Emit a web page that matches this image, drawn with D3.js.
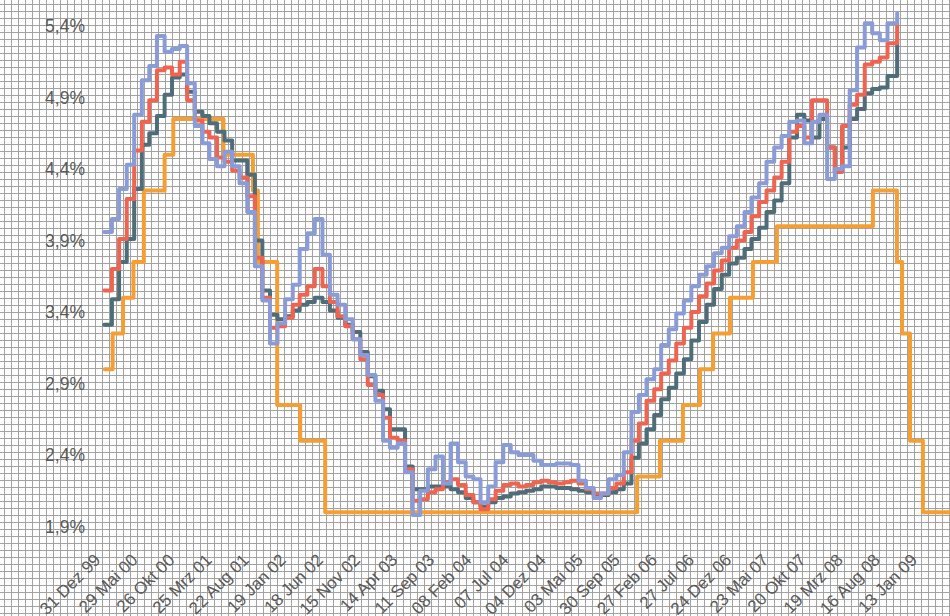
<!DOCTYPE html>
<html><head><meta charset="utf-8">
<script src="https://cdn.jsdelivr.net/npm/d3@7/dist/d3.min.js"></script>
<style>
html,body{margin:0;padding:0;background:#fff;}
svg{display:block;}
text{font-family:"Liberation Sans",Arial,sans-serif;}
</style></head><body>
<svg id="chart" width="950" height="616"></svg>
<script>
// ---------- DATA ----------
const firstMonth = "2000-01-01";
const lastPointDate = "2008-10-10";
const euribor3M = [
 3.31,3.49,3.75,3.91,4.26,4.57,4.65,4.77,4.92,5.04,5.06,4.94,
 4.80,4.77,4.72,4.66,4.60,4.46,4.46,4.36,3.90,3.55,3.38,3.35,
 3.37,3.41,3.45,3.47,3.50,3.47,3.41,3.36,3.31,3.26,3.12,2.95,
 2.85,2.72,2.58,2.58,2.32,2.16,2.16,2.18,2.18,2.18,2.16,2.14,
 2.10,2.07,2.04,2.07,2.10,2.11,2.13,2.14,2.15,2.16,2.18,2.18,
 2.17,2.17,2.16,2.15,2.14,2.12,2.12,2.14,2.16,2.20,2.38,2.48,
 2.58,2.68,2.79,2.87,2.97,3.07,3.20,3.33,3.45,3.56,3.66,3.74,
 3.78,3.84,3.91,3.99,4.10,4.18,4.30,4.62,4.78,4.74,4.62,4.75,
 4.55,4.38,4.55,4.75,4.82,4.93,4.96,4.97,5.05,5.30];
const euribor6M = [
 3.55,3.70,3.91,4.19,4.53,4.73,4.88,5.09,5.11,5.06,5.15,4.88,
 4.74,4.66,4.62,4.48,4.45,4.39,4.34,4.21,3.78,3.50,3.29,3.30,
 3.36,3.45,3.52,3.58,3.70,3.58,3.47,3.37,3.30,3.21,3.07,2.89,
 2.82,2.66,2.52,2.50,2.30,2.08,2.09,2.14,2.16,2.21,2.23,2.19,
 2.12,2.07,2.02,2.09,2.15,2.19,2.20,2.18,2.19,2.21,2.22,2.21,
 2.20,2.21,2.22,2.20,2.16,2.13,2.13,2.17,2.20,2.28,2.50,2.62,
 2.78,2.86,2.97,3.06,3.18,3.29,3.40,3.51,3.60,3.69,3.76,3.85,
 3.90,3.96,4.07,4.17,4.25,4.34,4.45,4.66,4.70,4.62,4.88,4.88,
 4.55,4.38,4.70,4.85,4.92,5.13,5.15,5.18,5.28,5.42];
const euribor12M = [
 3.96,4.05,4.26,4.43,4.78,5.02,5.12,5.33,5.22,5.24,5.26,5.00,
 4.70,4.58,4.47,4.42,4.52,4.42,4.30,4.10,3.72,3.48,3.18,3.32,
 3.49,3.59,3.84,3.95,4.05,3.80,3.52,3.45,3.35,3.21,3.10,2.96,
 2.78,2.50,2.45,2.48,2.28,1.98,2.15,2.30,2.39,2.20,2.48,2.35,
 2.25,2.23,2.07,2.18,2.35,2.47,2.42,2.40,2.40,2.36,2.33,2.33,
 2.34,2.34,2.33,2.22,2.17,2.10,2.13,2.23,2.26,2.42,2.70,2.82,
 2.93,3.00,3.17,3.28,3.39,3.48,3.58,3.66,3.72,3.81,3.85,3.93,
 4.00,4.10,4.20,4.30,4.45,4.55,4.63,4.73,4.74,4.58,4.73,4.78,
 4.33,4.40,4.42,4.95,5.25,5.42,5.35,5.30,5.42,5.49];
const ecbDates = ["2000-01-03","2000-02-04","2000-03-17","2000-04-28","2000-06-09","2000-09-01","2000-10-06",
 "2001-04-27","2001-08-24","2001-09-13","2001-11-30","2002-03-03","2002-06-12","2005-11-24","2006-02-24",
 "2006-05-28","2006-08-05","2006-09-27","2006-12-04","2007-03-07","2007-06-12","2008-07-04","2008-10-09",
 "2008-10-30","2008-12-01","2009-01-22","2009-08-01"];
const ecbRates = [3.00,3.25,3.50,3.75,4.25,4.50,4.75,4.50,4.25,3.75,2.75,2.50,2.00,2.25,2.50,
 2.75,3.00,3.25,3.50,3.75,4.00,4.25,3.75,3.25,2.50,2.00,2.00];
const yTicks = [1.9,2.4,2.9,3.4,3.9,4.4,4.9,5.4];
const xTickDates = ["1999-12-31","2000-05-29","2000-10-26","2001-03-25","2001-08-22","2002-01-19","2002-06-18",
 "2002-11-15","2003-04-14","2003-09-11","2004-02-08","2004-07-07","2004-12-04","2005-05-03","2005-09-30",
 "2006-02-27","2006-07-27","2006-12-24","2007-05-23","2007-10-20","2008-03-19","2008-08-16","2009-01-13"];
const xTickLabels = ["31 Dez 99","29 Mai 00","26 Okt 00","25 Mrz 01","22 Aug 01","19 Jan 02","18 Jun 02",
 "15 Nov 02","14 Apr 03","11 Sep 03","08 Feb 04","07 Jul 04","04 Dez 04","03 Mai 05","30 Sep 05",
 "27 Feb 06","27 Jul 06","24 Dez 06","23 Mai 07","20 Okt 07","19 Mrz 08","16 Aug 08","13 Jan 09"];

// ---------- CHART ----------
const W = 950, H = 616;
const parse = d3.utcParse("%Y-%m-%d");
const svg = d3.select("#chart");

const x = d3.scaleUtc().domain([parse("1999-12-31"), parse("2009-05-12")]).range([104, 950.1]);
const y = d3.scaleLinear().domain([1.9, 5.4]).range([526.5, 26]);
const FONT = "'Liberation Sans',Arial,sans-serif";

// background grid pattern
const defs = svg.append("defs");
const pat = defs.append("pattern").attr("id","grid").attr("patternUnits","userSpaceOnUse")
  .attr("width",7).attr("height",7).attr("x",0).attr("y",0);
pat.append("rect").attr("width",7).attr("height",7).attr("fill","#ffffff");
pat.append("line").attr("x1",4.5).attr("x2",4.5).attr("y1",0).attr("y2",7).attr("stroke","#a2a2a2").attr("stroke-width",1);
pat.append("line").attr("y1",4.5).attr("y2",4.5).attr("x1",0).attr("x2",7).attr("stroke","#a2a2a2").attr("stroke-width",1);
svg.append("rect").attr("width",W).attr("height",H).attr("fill","url(#grid)");

// monthly dates for euribor
const monthDates = d3.utcMonth.range(parse(firstMonth), parse("2008-10-01"));
monthDates.push(parse(lastPointDate));

const line = d3.line().curve(d3.curveStepAfter).x(d => x(d[0])).y(d => y(d[1]));

const ecbData = ecbDates.map((d,i) => [parse(d), ecbRates[i]]);
const series = [
  {data: ecbData, color: "#f59e34"},
  {data: monthDates.map((d,i) => [d, euribor3M[i]]), color: "#4f6d79"},
  {data: monthDates.map((d,i) => [d, euribor6M[i]]), color: "#ee6450"},
  {data: monthDates.map((d,i) => [d, euribor12M[i]]), color: "#8a9cd7"}
];
svg.append("g").selectAll("path").data(series).join("path")
  .attr("d", s => line(s.data))
  .attr("fill","none").attr("stroke", s => s.color)
  .attr("stroke-width",4).attr("stroke-linejoin","round").attr("stroke-linecap","round");

// y axis labels
const yAxis = d3.axisLeft(y).tickValues(yTicks).tickSize(0).tickPadding(0)
  .tickFormat(d => d3.format(".1f")(d).replace(".", ",") + "%");
const gy = svg.append("g").attr("transform","translate(85,0)").call(yAxis);
gy.select(".domain").remove();
gy.selectAll("text").attr("font-size",17.5).attr("fill","#5a5a5a").attr("font-family",FONT);

// x axis labels
const tickMap = new Map(xTickDates.map((d,i) => [+parse(d), xTickLabels[i]]));
const xAxis = d3.axisBottom(x).tickValues(xTickDates.map(parse)).tickSize(0).tickPadding(0)
  .tickFormat(d => tickMap.get(+d));
const gx = svg.append("g").attr("transform","translate(-3,561)").call(xAxis);
gx.select(".domain").remove();
gx.selectAll("text").attr("font-size",17).attr("fill","#5a5a5a").attr("font-family",FONT)
  .attr("text-anchor","end").attr("dy",0).attr("y",0).attr("x",0)
  .attr("transform","rotate(-45)");
</script>
</body></html>
